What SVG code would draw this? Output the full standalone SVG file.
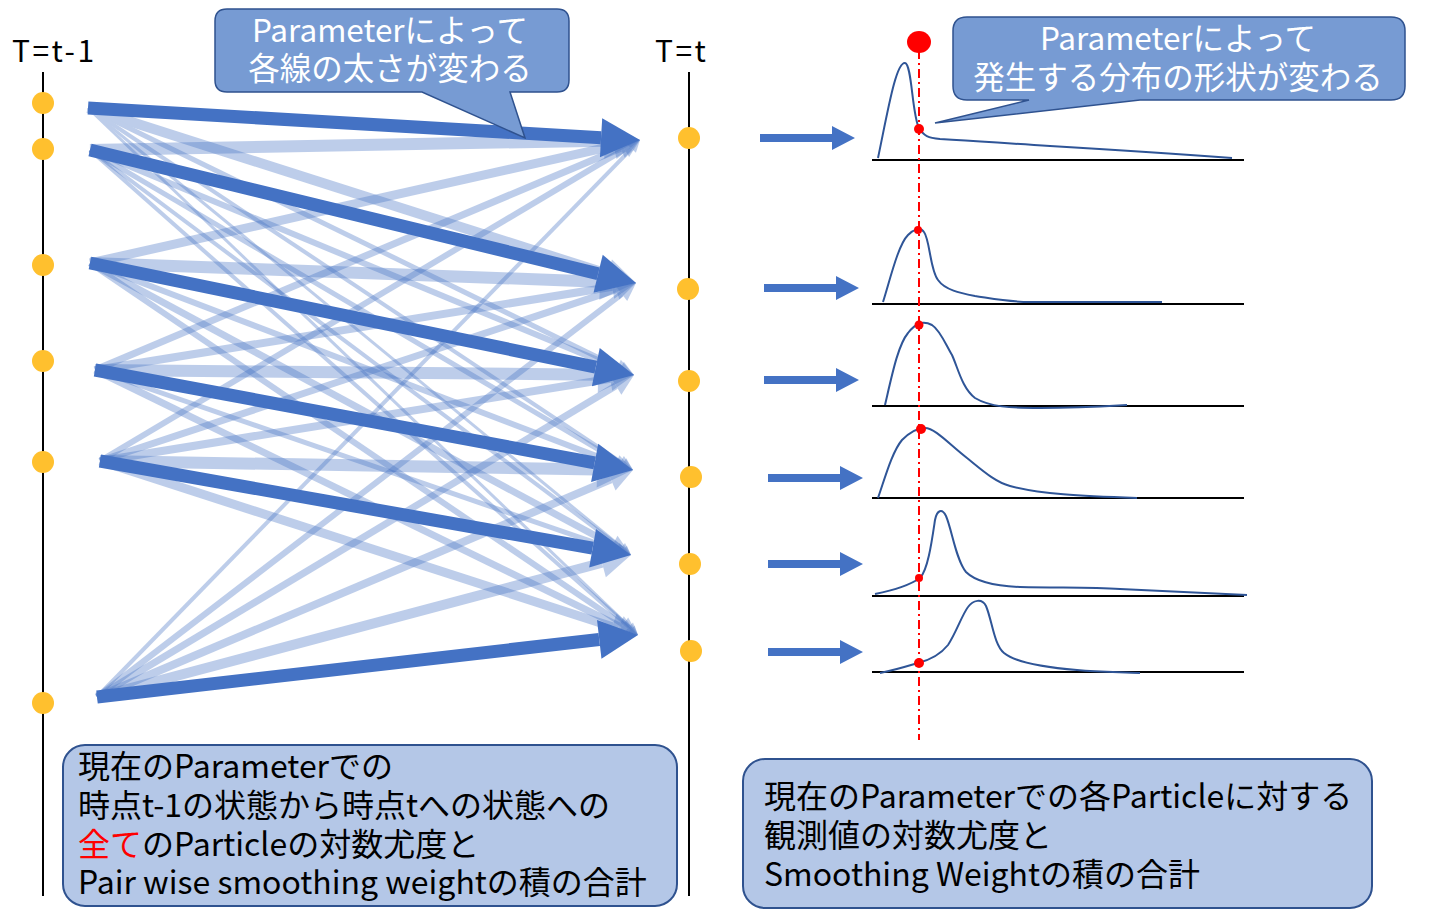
<svg xmlns="http://www.w3.org/2000/svg" width="1440" height="920" viewBox="0 0 1440 920">
<style>
.ax{stroke:#000;stroke-width:2;fill:none}
.dot{fill:#FFC02E}
.lbl{font-family:"Noto Sans CJK JP","Noto Sans",sans-serif;font-size:30px;letter-spacing:2.5px;fill:#000}
.co{fill:#779BD3;stroke:#2F528F;stroke-width:1.5}
.cot{font-family:"Noto Sans CJK JP","Noto Sans",sans-serif;font-size:31.5px;fill:#fff;text-anchor:middle}
.box{fill:#B4C7E7;stroke:#2F528F;stroke-width:2}
.bt{font-family:"Noto Sans CJK JP","Noto Sans",sans-serif;font-size:32px;fill:#000}
.red{fill:#FF0000}
.crv{fill:none;stroke:#2F5597;stroke-width:2}
.base{stroke:#000;stroke-width:2}
.dk{stroke:#4472C4;fill:none;marker-end:url(#ah)}
.sa{fill:#4472C4}
</style>
<defs>
<marker id="ah" viewBox="0 0 3 3" refX="0" refY="1.5" markerWidth="3" markerHeight="3" orient="auto" markerUnits="strokeWidth" overflow="visible"><path d="M0,0 L3,1.5 L0,3 Z" fill="#4472C4"/></marker>
<path id="sarr" d="M0,-4 H72 V-12 L95,0 L72,12 V4 H0 Z"/>
</defs>
<rect width="1440" height="920" fill="#fff"/>

<g id="axis-prev">
<text class="lbl" x="12" y="62">T=t-1</text>
<line class="ax" x1="43" y1="72" x2="43" y2="896"/>
</g>
<g id="axis-curr">
<text class="lbl" x="655" y="62">T=t</text>
<line class="ax" x1="689" y1="72" x2="689" y2="896"/>
</g>

<g id="connectors">
<g opacity="0.35">
<line class="dk" stroke-width="10" x1="88" y1="108" x2="607.42" y2="273.87"/>
<line class="dk" stroke-width="5" x1="88" y1="108" x2="620.53" y2="368.41"/>
<line class="dk" stroke-width="4" x1="88" y1="108" x2="623" y2="463.36"/>
<line class="dk" stroke-width="3" x1="88" y1="108" x2="624.05" y2="549.28"/>
<line class="dk" stroke-width="3" x1="88" y1="108" x2="631.5" y2="628.77"/>
</g>
<g opacity="0.35"><line class="dk" stroke-width="12" x1="90" y1="150" x2="604.01" y2="140.66"/></g>
<g opacity="0.35"><line class="dk" stroke-width="6" x1="90" y1="150" x2="617.37" y2="368.12"/></g>
<g opacity="0.35"><line class="dk" stroke-width="5" x1="90" y1="150" x2="620.08" y2="462.38"/></g>
<g opacity="0.35"><line class="dk" stroke-width="4" x1="90" y1="150" x2="621.39" y2="547.81"/></g>
<g opacity="0.35"><line class="dk" stroke-width="4" x1="90" y1="150" x2="629.01" y2="627.05"/></g>
<g opacity="0.35"><line class="dk" stroke-width="9" x1="90" y1="263" x2="613.65" y2="145.89"/></g>
<g opacity="0.35"><line class="dk" stroke-width="12" x1="90" y1="263" x2="600.03" y2="281.68"/></g>
<g opacity="0.35"><line class="dk" stroke-width="6" x1="90" y1="263" x2="616.18" y2="463.59"/></g>
<g opacity="0.35"><line class="dk" stroke-width="7" x1="90" y1="263" x2="612.52" y2="545.02"/></g>
<g opacity="0.35"><line class="dk" stroke-width="6" x1="90" y1="263" x2="623.11" y2="624.89"/></g>
<g opacity="0.35"><line class="dk" stroke-width="7" x1="95" y1="370" x2="620.65" y2="148.16"/></g>
<g opacity="0.35"><line class="dk" stroke-width="8" x1="95" y1="370" x2="612.3" y2="286.81"/></g>
<g opacity="0.35"><line class="dk" stroke-width="12" x1="95" y1="370" x2="598" y2="374.67"/></g>
<g opacity="0.35"><line class="dk" stroke-width="5" x1="95" y1="370" x2="616.82" y2="550.11"/></g>
<g opacity="0.35"><line class="dk" stroke-width="7" x1="95" y1="370" x2="619.13" y2="625.79"/></g>
<g opacity="0.35"><line class="dk" stroke-width="6" x1="100" y1="461" x2="624.53" y2="149.2"/></g>
<g opacity="0.35"><line class="dk" stroke-width="7" x1="100" y1="461" x2="616.07" y2="289.62"/></g>
<g opacity="0.35"><line class="dk" stroke-width="8" x1="100" y1="461" x2="610.3" y2="378.82"/></g>
<g opacity="0.35"><line class="dk" stroke-width="12" x1="100" y1="461" x2="597" y2="469.39"/></g>
<g opacity="0.35"><line class="dk" stroke-width="9" x1="100" y1="461" x2="612.31" y2="626.69"/></g>
<g opacity="0.35"><line class="dk" stroke-width="4" x1="97" y1="697" x2="631.62" y2="148.59"/></g>
<g opacity="0.35"><line class="dk" stroke-width="6" x1="97" y1="697" x2="621.72" y2="293.96"/></g>
<g opacity="0.35"><line class="dk" stroke-width="7" x1="97" y1="697" x2="615.99" y2="385.8"/></g>
<g opacity="0.35"><line class="dk" stroke-width="8" x1="97" y1="697" x2="610.9" y2="479.36"/></g>
<g opacity="0.35"><line class="dk" stroke-width="10" x1="97" y1="697" x2="602.01" y2="562.71"/></g>

<line class="dk" stroke-width="13" x1="88" y1="108" x2="601.07" y2="137.74"/>
<line class="dk" stroke-width="13" x1="90" y1="150" x2="598.11" y2="273.77"/>
<line class="dk" stroke-width="13" x1="90" y1="263" x2="595.8" y2="367.13"/>
<line class="dk" stroke-width="13" x1="95" y1="370" x2="594.66" y2="462.87"/>
<line class="dk" stroke-width="13" x1="100" y1="461" x2="592.6" y2="548.2"/>
<line class="dk" stroke-width="13" x1="97" y1="697" x2="599.25" y2="639.44"/>

<use href="#sarr" class="sa" x="760" y="138"/>
<use href="#sarr" class="sa" x="764" y="288"/>
<use href="#sarr" class="sa" x="764" y="380"/>
<use href="#sarr" class="sa" x="768" y="478"/>
<use href="#sarr" class="sa" x="768" y="564"/>
<use href="#sarr" class="sa" x="768" y="652"/>
</g>

<g id="prev-particles">
<circle class="dot" cx="43" cy="103" r="11"/>
<circle class="dot" cx="43" cy="149" r="11"/>
<circle class="dot" cx="43" cy="265" r="11"/>
<circle class="dot" cx="43" cy="361" r="11"/>
<circle class="dot" cx="43" cy="462" r="11"/>
<circle class="dot" cx="43" cy="703" r="11"/>
</g>
<g id="curr-particles">
<circle class="dot" cx="689" cy="138" r="11"/>
<circle class="dot" cx="688" cy="289" r="11"/>
<circle class="dot" cx="689" cy="381" r="11"/>
<circle class="dot" cx="691" cy="477" r="11"/>
<circle class="dot" cx="690" cy="564" r="11"/>
<circle class="dot" cx="691" cy="651" r="11"/>
</g>

<g id="distributions">
<line class="base" x1="872" y1="160" x2="1244" y2="160"/>
<line class="base" x1="872" y1="304" x2="1244" y2="304"/>
<line class="base" x1="872" y1="406" x2="1244" y2="406"/>
<line class="base" x1="872" y1="498" x2="1244" y2="498"/>
<line class="base" x1="872" y1="596" x2="1244" y2="596"/>
<line class="base" x1="872" y1="672" x2="1244" y2="672"/>
<path class="crv" d="M878,158 C888,110 896,62 905,63 C912,64 912,115 919,128 C924,136 928,138 940,139 C980,141 1000,143 1050,146 C1120,150 1180,154 1232,158"/>
<path class="crv" d="M883,302 C890,280 898,245 908,235 C913,230 920,226 924,232 C930,240 930,270 938,280 C945,290 960,293 975,296 C995,299 1010,302 1030,302 L1162,302"/>
<path class="crv" d="M885,405 C892,375 898,345 908,333 C915,324 922,320 932,325 C940,330 946,345 952,355 C958,368 962,388 975,398 C990,407 1010,408 1040,408 C1080,408 1110,406 1127,405"/>
<path class="crv" d="M878,498 C885,478 892,452 902,440 C910,432 918,428 925,428 C935,428 950,445 967,458 C982,470 995,482 1010,486 C1040,494 1080,496 1137,498"/>
<path class="crv" d="M875,594 C895,590 910,585 920,578 C928,570 932,540 935,520 C937,510 942,508 946,516 C952,530 956,560 966,572 C976,582 995,586 1020,587 C1060,588 1090,587 1120,589 C1170,591 1210,593 1247,595"/>
<path class="crv" d="M880,673 C895,670 908,666 918,663 C930,660 940,655 948,645 C956,633 962,615 968,607 C973,600 982,598 986,606 C992,620 994,645 1004,653 C1015,662 1040,667 1077,670 C1100,672 1120,672 1140,673"/>
</g>

<g id="observation">
<line x1="919" y1="50" x2="919" y2="740" stroke="#FF0000" stroke-width="2" stroke-dasharray="9,4,2,4"/>
<ellipse class="red" cx="919" cy="42" rx="12" ry="11"/>
<circle class="red" cx="919" cy="129" r="5"/>
<circle class="red" cx="918" cy="230" r="4"/>
<circle class="red" cx="919" cy="325" r="4.5"/>
<circle class="red" cx="921" cy="429" r="5"/>
<circle class="red" cx="919" cy="578" r="4"/>
<circle class="red" cx="919" cy="663" r="5"/>
</g>

<g id="callout-width">
<path class="co" d="M227,9 H557 Q569,9 569,21 V80 Q569,92 557,92 H510 L525,138 L422,92 H227 Q215,92 215,80 V21 Q215,9 227,9 Z"/>
<text class="cot" x="390" y="42">Parameterによって<tspan x="390" dy="38">各線の太さが変わる</tspan></text>
</g>

<g id="callout-shape">
<path class="co" d="M967,17 H1391 Q1405,17 1405,31 V86 Q1405,100 1391,100 H1140 L935,123 L1029,100 H967 Q953,100 953,86 V31 Q953,17 967,17 Z"/>
<text class="cot" x="1178" y="50">Parameterによって<tspan x="1178" dy="39">発生する分布の形状が変わる</tspan></text>
</g>

<g id="box-transition">
<rect class="box" x="63" y="745" width="614" height="161" rx="22"/>
<text class="bt" x="78" y="778">現在のParameterでの<tspan x="78" dy="39">時点t-1の状態から時点tへの状態への</tspan><tspan x="78" dy="39" fill="#FF0000">全て</tspan><tspan>のParticleの対数尤度と</tspan><tspan x="78" dy="38">Pair wise smoothing weightの積の合計</tspan></text>
</g>

<g id="box-observation">
<rect class="box" x="743" y="759" width="629" height="149" rx="22"/>
<text class="bt" x="764" y="808">現在のParameterでの各Particleに対する<tspan x="764" dy="39">観測値の対数尤度と</tspan><tspan x="764" dy="39">Smoothing Weightの積の合計</tspan></text>
</g>
</svg>
